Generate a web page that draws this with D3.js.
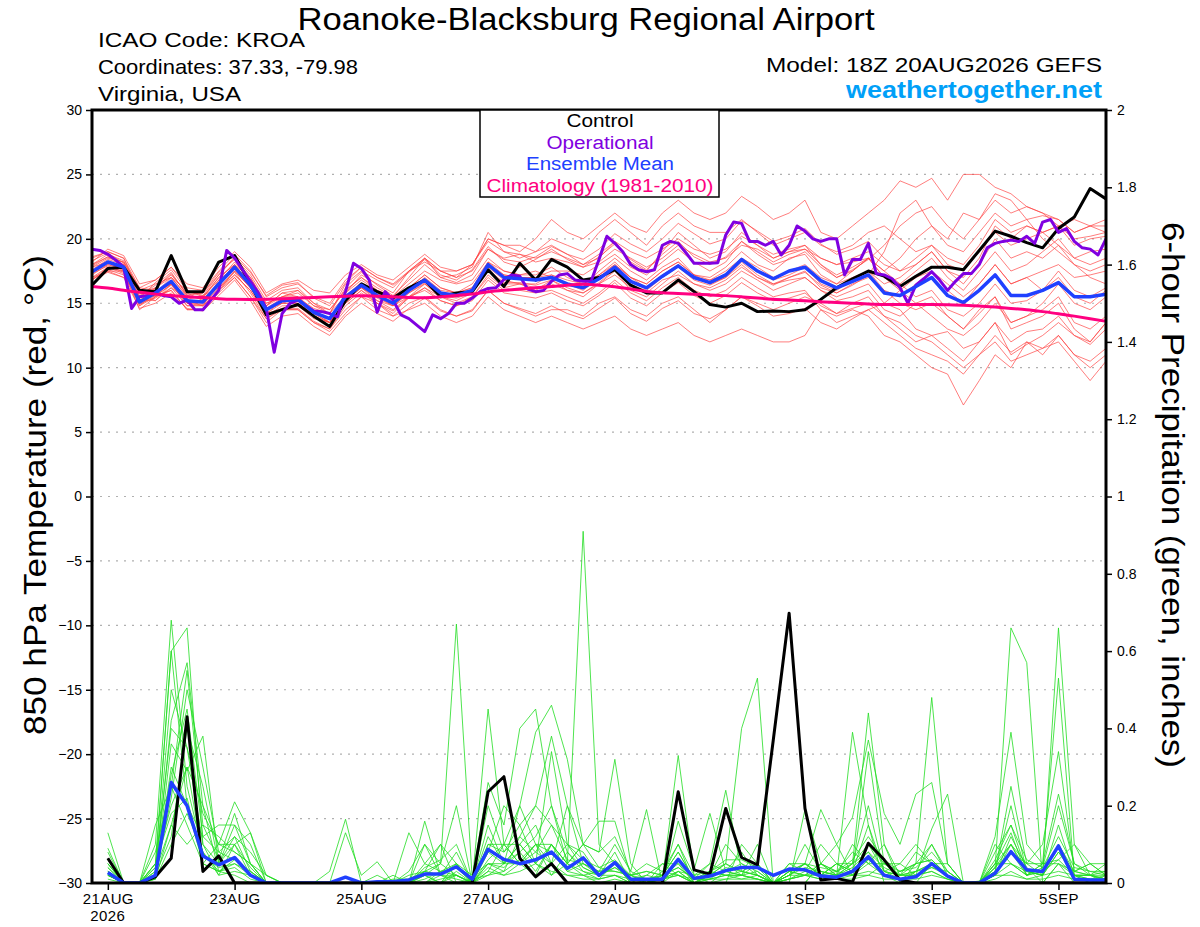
<!DOCTYPE html>
<html><head><meta charset="utf-8">
<script src="https://cdn.jsdelivr.net/npm/d3@7/dist/d3.min.js"></script>
<style>
html,body{margin:0;padding:0;background:#fff;}
svg{display:block;font-family:"Liberation Sans",Arial,Helvetica,sans-serif;}
</style></head>
<body><svg id="c" width="1200" height="927"></svg>
<script>
// ---------- DATA ----------
const startTime = "2026-08-20T18:00:00Z";   // first 6-hourly time
const stepHours = 6;
const xTickDates = ["2026-08-21T00:00:00Z","2026-08-23T00:00:00Z","2026-08-25T00:00:00Z","2026-08-27T00:00:00Z","2026-08-29T00:00:00Z","2026-09-01T00:00:00Z","2026-09-03T00:00:00Z","2026-09-05T00:00:00Z"];
const xTickLabels = ["21AUG","23AUG","25AUG","27AUG","29AUG","1SEP","3SEP","5SEP"];
const tempTicks = [-30,-25,-20,-15,-10,-5,0,5,10,15,20,25,30];
const precipTicks = [0,0.2,0.4,0.6,0.8,1,1.2,1.4,1.6,1.8,2];

// 6-hourly control temperature (C)
const controlTemp = [16.4,17.7,17.8,16.0,15.9,18.7,15.9,15.9,18.2,18.7,16.5,14.1,14.5,14.9,14.0,13.2,15.2,16.5,15.9,15.4,16.2,16.8,15.5,15.8,15.9,17.6,16.3,18.1,16.8,18.4,17.8,16.8,17.0,17.6,16.4,15.8,15.8,16.8,15.9,14.9,14.7,15.0,14.35,14.4,14.35,14.5,15.3,16.2,16.9,17.5,17.1,16.3,17.1,17.8,17.8,17.6,19.1,20.6,20.2,19.7,19.3,20.8,21.7,23.9,23.1];
// 6-hourly ensemble mean temperature
const meanTemp = [17.45,18.2,17.8,15.1,15.8,16.7,15.2,15.1,16.5,17.8,16.4,14.5,15.2,15.3,14.3,13.8,15.5,16.4,15.6,15.0,16.0,16.8,15.8,15.6,16.0,18.0,17.0,16.9,16.8,17.0,16.5,16.2,16.9,17.8,16.7,16.2,17.1,17.9,17.0,16.6,17.2,18.4,17.5,16.9,17.5,17.8,16.75,16.2,16.7,17.2,15.8,15.6,16.3,17.0,15.6,15.05,16.0,17.2,15.6,15.6,16.0,16.6,15.5,15.5,15.7];
// climatology (1981-2010)
const climoTemp = [16.3,16.2,16.0,15.85,15.7,15.6,15.5,15.45,15.35,15.3,15.3,15.3,15.35,15.4,15.45,15.5,15.55,15.6,15.55,15.5,15.45,15.4,15.5,15.6,15.7,15.9,16.0,16.1,16.2,16.3,16.4,16.5,16.4,16.3,16.1,15.9,15.8,15.75,15.7,15.65,15.6,15.5,15.4,15.3,15.25,15.2,15.1,15.05,15.0,14.95,14.9,14.9,14.9,14.9,14.9,14.85,14.8,14.7,14.6,14.5,14.35,14.2,14.0,13.8,13.6];
// 3-hourly operational temperature
const operStepHours = 3;
const operTemp = [19.2,19.1,18.8,18.35,17.8,14.6,15.5,15.6,15.8,15.6,15.5,15.0,15.25,14.5,14.5,15.25,16.0,19.1,18.5,17.6,16.7,15.8,14.6,11.2,14.2,15.0,15.25,14.8,14.4,14.35,14.2,13.95,15.9,18.1,17.7,16.8,14.3,15.9,15.25,14.1,13.8,13.3,12.8,14.1,13.8,14.2,15.0,15.0,15.4,15.9,16.15,16.2,16.85,17.2,17.1,16.1,15.9,16.0,16.7,17.2,17.3,16.8,16.7,16.7,18.4,20.2,19.65,19.0,18.0,17.6,17.45,17.6,19.5,19.8,19.65,18.9,18.1,18.1,18.1,18.15,20.3,21.3,21.2,19.8,19.8,19.5,19.8,18.75,19.5,21.0,20.6,20.0,19.8,20.0,20.0,17.2,18.4,18.4,19.65,17.3,17.2,16.9,16.2,15.0,16.4,16.9,17.45,16.8,16.0,16.7,17.3,17.3,18.0,19.3,19.65,19.8,19.9,19.8,20.2,19.65,21.3,21.5,20.5,20.8,19.8,19.3,19.2,18.75,20.0];

// ensemble member temperatures (6-hourly)
const memberTemp1 = [18,18.8,18.3,16,16.5,17,16,15.5,17,18,17,15,15.5,16,15,14.5,16,17,16,15.5,17,18.5,17.5,17,18,20,19.5,19,20,21.5,20.5,20,21,22,21,20.5,22,23,22,21.5,22,23.3,22.5,21.5,22,23,20.5,20,21,22,23,24.5,24,24.7,23,25,25,24,23.5,22.5,22,21,21.5,21,21.5];
const memberTemp2 = [17,17.5,17.5,14.5,15.5,16,14.5,14.5,16,17,15.5,13.5,14.5,14.5,13.5,13,14.5,15.5,15,14,14.5,15,14,13.5,14,15.5,14.5,14,13.5,14,13.5,13,13.5,14,13,12.5,13,13.5,12.5,12,12.5,13,12.5,12,12,12.5,14.5,14,14.5,14,12.5,12,11,10,9.5,7.1,9,11,10,12,11,12.5,11,10.5,11.5];
const memberTemp3 = [18.5,19,18.5,15.8,16.2,17.3,15.7,15.8,17.2,18.5,17.2,15.2,16,16.2,15,14.2,16.5,17.5,16.8,16.2,17.5,18.5,17,17.2,17.8,20.5,19,18.5,19,19.5,18.8,18,18.5,19.8,18.2,17.5,19,20.5,19.5,18.5,19,20.5,19.5,18.5,19,19.5,18,17,17.5,18.5,17,16.5,17.5,18.5,17,16,17.5,19,17.5,18,19,20,18.5,18,18.5];
const memberTemp4 = [17.8,18.5,18.2,16.2,16,16.5,15,14.8,16.8,18.2,16.8,14.8,15.8,15.5,14.5,13.5,15,16,15,14.2,15.5,16,15.2,14.8,15.5,17.2,16.2,16.5,16,16.8,16,15.5,16.5,17.5,16,15.5,16.5,17.5,16.5,16,16.5,17.5,16.8,16,16.5,17,16,15.2,15.5,16,14.5,14,15,15.5,14,13,14.2,15.5,13.5,14,14.5,15.5,13.5,13,14];
const memberTemp5 = [16.8,17.8,17.3,15.3,15.2,16.2,15.3,15.6,16.2,17.2,16,14.2,14.6,14.8,13.8,13.5,15.8,16.8,16,15.5,16.2,17.2,16.2,15.8,16.5,18.2,17.5,17.2,17.5,17,16.5,16.2,17.5,18.5,17.5,16.8,17.8,18.5,17.2,17,17.8,19,18,17.5,18.5,18.8,17.2,16.5,17.5,18.5,17.5,18.5,20,21,19.5,19,20.5,22,21,21.5,21.8,21.5,20.5,21,20.5];
const memberTemp6 = [17.2,18,17.6,14.8,15.5,16.5,15.2,14.8,16,17.5,16.2,14.5,15,15.5,14,13.2,15.5,16.2,15.5,14.8,15.8,16.5,15.5,15.2,15.8,17.5,16.5,16.5,16.2,16.5,16,15.8,16.5,17.2,16.2,15.8,16.8,17.2,16.5,16.2,16.8,17.8,17,16.5,16.8,17,16,15.5,16,16.5,15,14.5,13,12.5,12.8,11.5,12,13.5,11,11.8,12.5,13.5,12.5,11.8,13];
const memberTemp7 = [18.2,19.2,18.7,16.5,16.8,17.8,16.2,16,17.5,18.8,17.5,15.5,16.2,16.5,15.5,15,16.8,17.8,17,16.5,17.5,18.2,17.5,17,17.5,19.2,18.5,18.8,18.2,18.5,18.2,17.8,18.2,19.2,18.5,17.8,18.5,19.5,18.8,18.2,18.5,19.5,19.2,18.5,19,19.2,18.5,18,18.5,19,18,17.5,18.5,19.5,18,17.5,19,20.5,19.5,20,20.5,21,19.5,20,20.2];
const memberTemp8 = [16.5,17.5,17,15.5,15.6,16,14.5,14.5,15.8,17,15.5,13.8,14.5,14.5,13.5,12.8,14.2,15.5,14.5,14,15,15.5,14.5,14,14.5,16,15,14.5,14,14.5,14.5,14,15,15.5,14.5,14,15,15.5,14.5,13.5,14.5,15.5,15,14.5,15,15.5,15,14.2,15,15.5,14,13.5,12.5,12,11,10,11,12.5,11.2,12,11.5,12,10.5,9,10.5];
const memberTemp9 = [17.6,18.4,18,15,15.8,17,15.5,15.4,17,18,16.5,14.2,15.2,15.2,14.2,13.8,15.2,16.5,15.8,15,16,17,16,15.8,16.2,18,17.2,17,17,17.5,17.5,17.2,18,18.8,17.8,17.2,18.2,19.2,18.2,17.5,18.2,19.8,19,18.2,18.8,19.2,18,17.2,17.8,18.5,17.5,16.5,15.5,16,14.5,14,15,16.5,15,15.2,16,17,15.5,15,16];
const memberTemp10 = [17,17.8,17.5,15.2,16.2,17.2,15.8,15.2,16.5,17.8,16.8,14.8,15.5,15.8,14.8,14.5,16,17,16.2,15.5,16.5,17.5,16.8,16.5,16.8,18.5,17.5,17.2,17.2,17.8,17,16.5,17.2,18.2,17,16.5,17.5,18.2,17.2,16.8,17.2,18.5,17.5,16.8,17.2,17.8,16.5,16,16.8,17.5,16.5,17,18,19,17.5,17,18.5,21,20,21,20.5,19.5,18.5,19,19.2];
const memberTemp11 = [17.5,18.2,17.8,15.5,15.5,16.8,15,15,16.2,17.5,16.2,14.5,15,15,14,13.5,15.2,16.2,15.2,14.8,15.5,16.5,15.5,15.5,16,17.8,16.8,16.5,16.5,17.2,16.5,16,17,18,17,16.2,17.2,18,17,16.8,17.5,18.5,17.8,17,17.5,18,17,16.5,17,17.5,16,15,14.5,15,14,13,14.5,15.5,13,13.5,14,15,13,12,13.5];
const memberTemp12 = [18,18.6,18.2,15.8,15.2,16.5,15.5,15.5,16.8,17.8,16.5,15,15.5,15.5,14.2,13.5,15.8,17.2,16.5,15.8,17.5,18.5,17.5,17.5,18,20,19.5,19.5,19,20,19.5,19,20.5,21.5,20.5,19.5,21,22,21,20.5,20.5,21.5,20.5,19.5,20,20.5,19.5,19,19.5,20.5,21,20,19,19.5,18.5,18,19.5,21.5,20.5,21,20.5,21,20,20.2,20.5];
const memberTemp13 = [16.8,17.6,17.2,14.8,15.8,16.5,14.8,14.8,16,17.2,16,14,14.8,14.8,14,13.5,15,16,15.2,14.5,15.5,16.2,15.5,15,15.5,17,16,16,15.8,16,15.5,15,15.8,16.8,15.8,15.2,16.2,17,16,15.5,16,17,16.2,15.5,15.8,16,14.5,13.5,14,14.5,13.5,12.5,11.5,11,10.5,9.5,11,12,10.5,11,11.5,12.5,11,10,11];
const memberTemp14 = [17.8,18.2,17.5,15.2,16.2,17,15.6,15.3,16.6,18,16.6,14.6,15.4,15.4,14.6,14.2,15.6,16.6,15.8,15.2,16.2,17.2,16.2,15.8,16.2,18.2,17.2,17,17,17.2,16.8,16.5,17.2,18,17,16.5,17.5,18.2,17.2,16.5,17,18.2,17.2,16.5,17,17.5,16.2,15.8,16.5,17,16,15.5,16.5,17.5,16.5,15.5,16.5,18,16.5,17,17.5,18,17,17.2,17.5];
const memberTemp15 = [17.4,18,17.8,14.9,15.6,16.4,15,15.1,16.4,17.6,16.2,14.2,15,15,14.2,13.5,15.2,16.2,15.4,14.8,15.8,16.6,15.6,15.4,15.8,17.6,16.6,16.6,16.4,16.8,16.2,15.8,16.6,17.6,16.4,16,17,17.8,16.8,16.4,17,18,17,16.4,17,17.4,16.4,15.8,16.4,17.2,19,22,23,21,20,22,21.5,23.5,23,21.5,20,19,18,17,16.5];
const memberTemp16 = [18.6,19,18.5,16.2,16.8,17.8,16.5,16.2,17.8,19,17.8,15.8,16.5,16.8,16,15.8,17.2,18,17.2,16.8,17.8,18.8,17.8,17.5,18,19.8,19,18.8,18.5,19,18.5,18,18.8,19.8,19,18.5,19.2,20,19.2,18.8,19.2,20.2,19.5,18.8,19.2,19.5,18.5,18,18.2,18.5,17,16,15,14,13,12.5,13.5,15,13.5,14,15,16.5,15,14.5,15.5];
const memberTemp17 = [17.9,18.6,18,15.6,16.4,17.4,15.6,15.8,17.4,18.4,17,14.8,15.8,16,14.8,14.2,16.2,17.4,16.4,15.6,16.8,18,17,16.6,17.2,19.2,18.4,18.2,18.6,19.4,18.8,18.4,19.2,20.4,19.6,19,20,21.2,20.4,19.6,20,21.4,20.6,19.8,20.2,20.8,19.6,18.8,19.2,19.8,18.5,17.5,18,19,17.5,16.5,18,20,18.5,19,18.5,19.5,18,17.5,18];
const memberTemp18 = [16.9,17.4,17,14.6,15,15.8,14.6,14.4,15.6,16.8,15.2,13.2,14,14.2,13.2,12.5,14,15,14.2,13.6,14.6,15.4,14.4,14,14.4,16,15,14.6,14.2,14.8,14.2,13.8,14.6,15.4,14.2,13.6,14.6,15.2,14.2,13.8,14.5,15.5,14.8,14,14.2,14.6,13.5,13,13.8,14.5,15,16,17,17.5,16,15,16.5,18,16.5,17,16,17.5,16,15.5,16.2];
const memberTemp19 = [18.3,18.9,18.1,15.4,16.6,17.6,16,15.6,17.2,18.6,17.4,15.6,16.4,16.6,15.4,14.8,16.6,17.8,17,16.4,17.4,18.4,17.2,16.8,17.6,19.4,18.2,17.8,18.4,19.2,18.4,17.8,18.6,19.6,18.4,17.6,18.8,19.8,18.6,18,18.6,19.8,18.8,18,18.4,19,17.8,17,17.6,18.4,19.5,21,22,22.5,21,20,21.5,23,22,22.5,22,21.5,20.5,21,21];
const memberTemp20 = [17.3,17.9,17.4,15,15.4,16.2,14.8,14.9,16.2,17.4,15.8,13.8,14.6,14.6,13.6,13,14.8,15.8,15,14.4,15.4,16.2,15.2,14.8,15.2,16.8,15.8,15.6,15.4,15.8,15.2,14.8,15.6,16.6,15.4,14.8,15.8,16.6,15.6,15,15.6,16.6,15.8,15.2,15.4,15.8,14.8,14.2,14.6,15,14,13,12,12.5,11.5,10.5,12,13.5,12,12.8,13,14,12.5,12,13.5];

// 6-hourly precipitation (inches), valid from step 1 (21AUG 00Z)
const controlPrecip = [0.064,0,0,0.016,0.064,0.43,0.03,0.07,0,0,0,0,0,0,0,0,0,0,0,0,0,0,0,0,0.236,0.275,0.064,0.016,0.05,0,0,0,0,0,0,0,0.236,0.034,0.023,0.193,0.066,0.047,0.37,0.698,0.193,0.008,0.012,0.003,0.103,0.06,0.008,0,0,0,0,0,0,0,0,0,0,0,0,0];
const meanPrecip = [0.027,0,0,0.02,0.26,0.2,0.07,0.047,0.066,0.02,0,0,0,0,0,0.015,0,0.003,0.003,0.008,0.023,0.023,0.042,0.01,0.087,0.061,0.05,0.06,0.08,0.038,0.065,0.02,0.053,0.01,0.01,0.01,0.061,0.012,0.018,0.032,0.04,0.04,0.02,0.036,0.034,0.018,0.015,0.03,0.068,0.02,0.01,0.016,0.05,0.018,0,0,0.025,0.081,0.034,0.03,0.096,0.01,0.008,0.008];
const memberPrecip1 = [.05,0,0,.1,.68,.25,.08,.03,.02,0,0,0,0,0,0,0,0,0,0,0,.02,.05,.67,.01,.02,.05,.1,.05,.02,.05,.91,.1,.05,0,0,.02,.1,0,0,.03,.05,.03,0,0,0,.05,.02,.39,.15,0,0,.03,.1,.02,0,0,.02,.12,.04,0,.05,.02,0,.01];
const memberPrecip2 = [.13,0,0,.05,.6,.66,.1,.05,.1,.13,0,0,0,0,0,0,0,0,0,0,.1,.05,.2,0,.45,.1,.05,.02,.1,.05,.1,.08,.32,.05,0,0,.03,0,.02,.05,.4,.53,0,0,0,.05,.03,.05,.44,.1,0,0,.05,.02,0,0,.04,.66,.57,0,.05,0,0,0];
const memberPrecip3 = [.05,0,0,.02,.42,.57,.2,.1,.21,.13,.02,0,0,0,.03,.165,0,0,0,0,.16,.02,0,.01,.26,.15,.4,.45,.2,.05,.1,.16,.16,.02,0,.01,.33,.02,0,0,.1,.05,0,0,.19,.05,.1,.02,.05,.02,0,.05,.48,.05,0,0,.1,.05,.03,.02,.66,.1,.05,.05];
const memberPrecip4 = [.09,0,0,.01,.36,.29,.38,.05,.15,.05,0,0,0,0,0,.13,.02,.055,0,.13,.05,.1,0,0,.1,.1,.2,.39,.46,.32,.1,.08,.12,.03,.19,0,.16,.035,.18,.03,.02,.1,0,.02,.05,.19,.1,.17,.37,.18,.1,.23,.26,.05,0,0,.12,.39,.1,.05,.53,.02,.02,.01];
const memberPrecip5 = [.03,0,0,.02,.3,.2,.12,.08,.12,.08,.02,0,0,0,0,0,0,0,0,.02,.03,.02,.08,0,.2,.08,.15,.2,.38,.2,.1,.04,.03,.02,.05,.03,.1,.02,.05,.24,.03,.02,0,.02,.05,.02,.05,.03,.34,.05,.05,.02,.14,.23,0,.005,.03,.25,.05,.1,.34,.03,.05,.02];
const memberPrecip6 = [.02,0,0,.08,.25,.15,.05,.1,.08,.05,0,0,0,0,0,0,0,0,0,0,0,.03,.05,.02,.05,.05,.1,.05,.34,.1,.08,.02,.05,0,.02,.05,.02,0,.03,.05,.02,.03,0,.05,.03,.1,.05,.02,.1,.03,.05,.1,.05,.02,0,0,.05,.13,.02,.05,.23,.05,.03,.03];
const memberPrecip7 = [.01,0,0,.05,.2,.3,.07,.04,.05,.03,0,0,0,0,0,0,0,0,.01,.01,.03,.02,.05,0,.03,.1,.05,.1,.05,.2,.05,.03,.1,.03,.01,.02,.05,0,.02,.1,.05,.02,0,.03,.02,.03,.02,.1,.05,.1,.02,.03,.05,.05,0,0,.02,.1,.05,.02,.08,.02,.02,.05];
const memberPrecip8 = [.04,0,0,.01,.15,.1,.15,.06,.18,.05,0,0,0,0,0,0,0,.02,0,0,.05,.03,.02,0,.15,.05,.08,.03,.1,.05,.03,.01,.05,.02,0,.05,.05,.01,.03,.02,.02,.05,0,.05,.05,.02,.05,.05,.1,.05,.03,.05,.1,.03,0,0,.05,.05,.02,.03,.1,.03,.02,0];
const memberPrecip9 = [.02,0,0,.02,.5,.35,.1,.02,.1,.02,0,0,0,0,0,0,0,0,0,0,.02,0,.03,0,.08,.2,.15,.05,.1,.03,.05,.02,.08,0,0,0,.06,0,.02,.05,.03,.05,0,.02,.02,.05,.03,.08,.05,.05,.02,.08,.05,.02,0,0,.08,.15,.03,.02,.15,.02,0,.02];
const memberPrecip10 = [.03,0,0,.15,.25,.55,.15,.12,.08,.05,.02,0,0,0,0,0,0,0,0,0,.02,0,.05,0,.05,.03,.12,.08,.05,.02,.02,.03,.03,.02,.03,.02,.08,.01,.05,.03,.08,.02,0,.02,.1,.03,.02,.05,.08,.02,.03,.05,.06,.02,0,0,.04,.08,.05,.05,.06,.1,.02,.02];
const memberPrecip11 = [.05,0,0,.05,.18,.22,.05,.03,.05,.02,0,0,0,0,0,0,0,0,0,0,0,.02,.01,0,.04,.02,.05,.1,.02,.08,.03,.02,.02,0,0,.03,.02,.01,.02,.03,.02,.01,0,.01,.02,.05,.02,.02,.02,.05,.02,.02,.03,.01,0,0,.02,.05,.02,.05,.05,.03,.05,.02];
const memberPrecip12 = [.02,0,0,.02,.12,.4,.25,.05,.12,.03,0,0,0,0,0,0,0,0,0,.03,.1,.02,.02,0,.12,.05,.2,.1,.08,.03,.02,.01,.02,.01,.02,.01,.03,.02,.03,.02,.03,.02,0,.03,.05,.02,.05,.03,.15,.03,.02,.02,.04,.03,0,0,.03,.2,.03,.02,.1,.02,.02,.01];
const memberPrecip13 = [.06,0,0,.03,.28,.45,.12,.15,.15,.1,0,0,0,0,0,0,0,0,.02,0,.03,.1,.05,0,.06,.1,.1,.15,.05,.1,.04,.02,.04,.02,.01,.01,.03,0,.01,.02,.01,.02,0,.03,.02,.02,.02,.05,.2,.03,.02,.05,.06,.02,0,0,.05,.1,.02,.04,.2,.05,.02,.03];
const memberPrecip14 = [.03,0,0,.01,.1,.18,.08,.02,.03,.02,0,0,0,0,0,0,0,0,0,0,0,0,.02,0,.02,.03,.06,.1,.1,.05,.02,0,.01,0,0,.01,.02,0,0,.01,.02,.01,0,.01,.02,.01,.01,.02,.03,.02,.01,.02,.03,.01,0,0,.01,.03,.01,.02,.03,.02,.01,.01];
const memberPrecip15 = [.04,0,0,.04,.6,.2,.05,.03,.06,.03,0,0,0,0,0,0,0,0,0,0,.03,.05,.02,0,.08,.05,.05,.08,.15,.06,.05,.03,.05,.01,0,.02,.04,.01,.01,.02,.02,.01,0,.01,.03,.02,.03,.02,.06,.03,.01,.03,.04,.02,0,0,.03,.08,.02,.03,.06,.02,.01,.02];
const memberPrecip16 = [.02,0,0,.03,.15,.3,.2,.03,.04,.01,0,0,0,0,0,0,0,0,0,0,0,.01,.02,0,.03,.02,.03,.05,.03,.02,.01,.01,.02,0,0,.01,.02,0,.01,.01,.01,.01,0,.01,.02,.01,.01,.01,.02,.01,.01,.01,.02,.01,0,0,.02,.02,.01,.01,.02,.01,.01,.01];
const memberPrecip17 = [.08,0,0,.04,.4,.35,.18,.1,.1,.04,0,0,0,0,0,0,0,0,0,0,.04,.06,.1,0,.1,.08,.12,.2,.15,.1,.06,.04,.06,.02,.03,.02,.08,.01,.03,.06,.06,.04,0,.03,.05,.04,.03,.06,.12,.06,.03,.04,.08,.03,0,0,.06,.15,.06,.04,.12,.04,.03,.02];
const memberPrecip18 = [.02,0,0,.02,.22,.5,.3,.08,.06,.02,0,0,0,0,0,0,0,0,0,0,.01,.03,.04,0,.05,.04,.08,.12,.2,.08,.04,.02,.04,.01,.01,.02,.04,.01,.01,.04,.03,.02,0,.02,.04,.03,.02,.04,.08,.04,.02,.03,.05,.02,0,0,.04,.1,.03,.02,.08,.03,.02,.01];

const memberTemps = [memberTemp1,memberTemp2,memberTemp3,memberTemp4,memberTemp5,memberTemp6,memberTemp7,memberTemp8,memberTemp9,memberTemp10,memberTemp11,memberTemp12,memberTemp13,memberTemp14,memberTemp15,memberTemp16,memberTemp17,memberTemp18,memberTemp19,memberTemp20];
const memberPrecips = [memberPrecip1,memberPrecip2,memberPrecip3,memberPrecip4,memberPrecip5,memberPrecip6,memberPrecip7,memberPrecip8,memberPrecip9,memberPrecip10,memberPrecip11,memberPrecip12,memberPrecip13,memberPrecip14,memberPrecip15,memberPrecip16,memberPrecip17,memberPrecip18];

const legendItems = [
  {label:"Control", color:"#000000", w:67},
  {label:"Operational", color:"#8000e0", w:107},
  {label:"Ensemble Mean", color:"#2040ff", w:148},
  {label:"Climatology (1981-2010)", color:"#ff0080", w:227}
];

// ---------- DRAW ----------
const svg = d3.select("#c");
const L = 92, R = 1106, T = 110, B = 883;
const t0 = new Date(startTime);
const tAt = (i, h) => new Date(t0.getTime() + i*h*3600e3);
const x = d3.scaleUtc().domain([t0, tAt(64, stepHours)]).range([L, R]);
const yT = d3.scaleLinear().domain([-30,30]).range([B,T]);
const yP = d3.scaleLinear().domain([0,2]).range([B,T]);

svg.append("defs").append("clipPath").attr("id","clip")
  .append("rect").attr("x",L).attr("y",T).attr("width",R-L).attr("height",B-T);

// gridlines
svg.append("g").selectAll("line").data(tempTicks.filter(v=>v>-30&&v<30)).join("line")
  .attr("x1",L).attr("x2",R).attr("y1",d=>yT(d)).attr("y2",d=>yT(d))
  .attr("stroke","#b0b0b0").attr("stroke-width",1.2).attr("stroke-dasharray","2,6");

const plot = svg.append("g").attr("clip-path","url(#clip)");
const lineT = (h) => d3.line().x((d,i)=>x(tAt(i,h))).y(d=>yT(d));
const lineP = d3.line().x((d,i)=>x(tAt(i+1,stepHours))).y(d=>yP(d));

memberTemps.forEach(m => plot.append("path").datum(m).attr("d", lineT(stepHours))
  .attr("fill","none").attr("stroke","#ff4040").attr("stroke-opacity",0.85).attr("stroke-width",0.8));
memberPrecips.forEach(m => plot.append("path").datum(m).attr("d", lineP)
  .attr("fill","none").attr("stroke","#22dd22").attr("stroke-width",0.8));

plot.append("path").datum(controlPrecip).attr("d", lineP).attr("fill","none").attr("stroke","#000").attr("stroke-width",3).attr("stroke-linejoin","round");
plot.append("path").datum(meanPrecip).attr("d", lineP).attr("fill","none").attr("stroke","#2040ff").attr("stroke-width",3.5).attr("stroke-linejoin","round");

plot.append("path").datum(controlTemp).attr("d", lineT(stepHours)).attr("fill","none").attr("stroke","#000").attr("stroke-width",3).attr("stroke-linejoin","round");
plot.append("path").datum(operTemp).attr("d", lineT(operStepHours)).attr("fill","none").attr("stroke","#8000e0").attr("stroke-width",3).attr("stroke-linejoin","round");
plot.append("path").datum(meanTemp).attr("d", lineT(stepHours)).attr("fill","none").attr("stroke","#2040ff").attr("stroke-width",3.5).attr("stroke-linejoin","round");
plot.append("path").datum(climoTemp).attr("d", d3.line().curve(d3.curveBasis).x((d,i)=>x(tAt(i,stepHours))).y(d=>yT(d))).attr("fill","none").attr("stroke","#ff0080").attr("stroke-width",3);

// frame
svg.append("rect").attr("x",L).attr("y",T).attr("width",R-L).attr("height",B-T)
  .attr("fill","none").attr("stroke","#000").attr("stroke-width",3);

// axes
const axL = svg.append("g").attr("transform",`translate(${L-1},0)`)
  .call(d3.axisLeft(yT).tickValues(tempTicks).tickSize(5).tickPadding(4).tickFormat(d3.format("d")));
const axR = svg.append("g").attr("transform",`translate(${R+1},0)`)
  .call(d3.axisRight(yP).tickValues(precipTicks).tickSize(5).tickPadding(5).tickFormat(d=>d3.format("")(d)));
const axB = svg.append("g").attr("transform",`translate(0,${B+1})`)
  .call(d3.axisBottom(x).tickValues(xTickDates.map(s=>new Date(s))).tickSize(6).tickPadding(3)
  .tickFormat((d,i)=>xTickLabels[i]));
[axL,axR,axB].forEach(a=>{
  a.select(".domain").remove();
  a.selectAll(".tick line").attr("stroke","#000").attr("stroke-width",1.5);
  a.selectAll("text").attr("font-size",14).attr("fill","#000").attr("font-family","'Liberation Sans',Arial,sans-serif");
});
axB.selectAll("text").attr("font-size",15).attr("letter-spacing",0.4);
axB.append("text").attr("x",x(new Date(xTickDates[0]))).attr("y",37)
  .attr("text-anchor","middle").attr("font-size",15).attr("fill","#000").attr("letter-spacing",0.4).text("2026");

// titles (stretched to the reference's wide lettering)
const txt = (xx,yy,s,fs,len,anchor,extra) => {
  const t = svg.append("text").attr("x",xx).attr("y",yy).attr("font-size",fs).attr("text-anchor",anchor)
    .attr("textLength",len).attr("lengthAdjust","spacingAndGlyphs").text(s);
  if (extra) extra(t);
  return t;
};
txt(586,30,"Roanoke-Blacksburg Regional Airport",31,577,"middle");
txt(98,47,"ICAO Code: KROA",21,207,"start");
txt(98,74,"Coordinates: 37.33, -79.98",21,260,"start");
txt(98,101,"Virginia, USA",21,143,"start");
txt(1102,72,"Model: 18Z 20AUG2026 GEFS",21,336,"end");
txt(1102,98,"weathertogether.net",23,256,"end",t=>t.attr("font-weight","bold").attr("fill","#00a0f8"));

// axis titles
svg.append("text").attr("transform","translate(46,495) rotate(-90)").attr("text-anchor","middle").attr("font-size",31)
  .attr("textLength",480).attr("lengthAdjust","spacingAndGlyphs").text("850 hPa Temperature (red, °C)");
svg.append("text").attr("transform","translate(1162,495) rotate(90)").attr("text-anchor","middle").attr("font-size",31)
  .attr("textLength",546).attr("lengthAdjust","spacingAndGlyphs").text("6-hour Precipitation (green, inches)");

// legend
const lg = svg.append("g");
lg.append("rect").attr("x",480).attr("y",110).attr("width",239).attr("height",87).attr("fill","#fff").attr("stroke","#000").attr("stroke-width",1.5);
lg.selectAll("text").data(legendItems).join("text")
  .attr("x",600).attr("y",(d,i)=>127+i*21.5).attr("text-anchor","middle").attr("font-size",18)
  .attr("textLength",d=>d.w).attr("lengthAdjust","spacingAndGlyphs")
  .attr("fill",d=>d.color).text(d=>d.label);
</script></body></html>
